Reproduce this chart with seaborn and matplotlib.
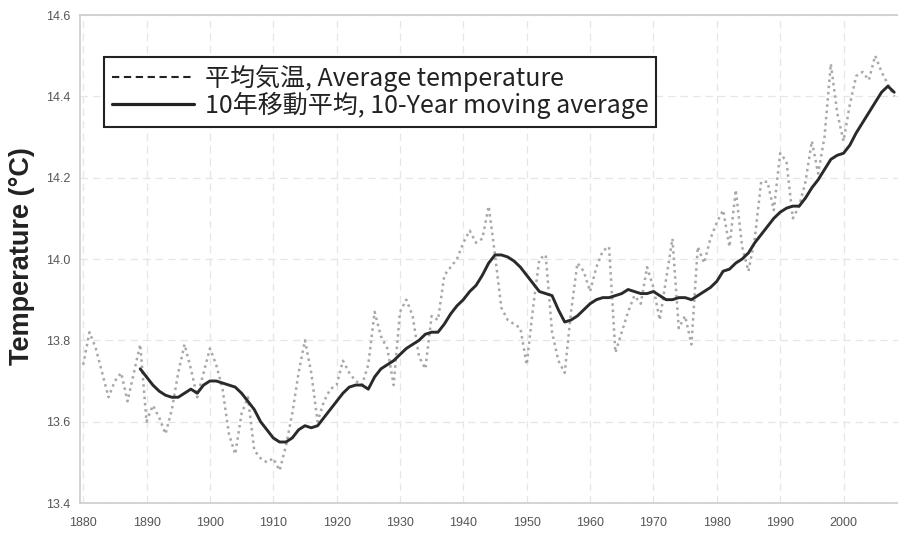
import numpy as np
import pandas as pd
import matplotlib
matplotlib.use('Agg')
import matplotlib.pyplot as plt
from matplotlib.lines import Line2D
import seaborn as sns

# annual mean temperature
years = list(range(1880, 2009))
avg_temp = [
    13.74, 13.82, 13.78, 13.72, 13.66, 13.70, 13.72, 13.65, 13.72, 13.79,  # 1880s
    13.60, 13.64, 13.61, 13.57, 13.63, 13.72, 13.79, 13.73, 13.66, 13.72,  # 1890s
    13.78, 13.74, 13.68, 13.57, 13.52, 13.62, 13.66, 13.53, 13.51, 13.50,  # 1900s
    13.51, 13.48, 13.54, 13.62, 13.72, 13.80, 13.72, 13.60, 13.65, 13.68,  # 1910s
    13.69, 13.75, 13.72, 13.70, 13.69, 13.74, 13.87, 13.81, 13.78, 13.69,  # 1920s
    13.87, 13.90, 13.86, 13.76, 13.73, 13.86, 13.85, 13.96, 13.98, 14.00,  # 1930s
    14.04, 14.07, 14.04, 14.05, 14.13, 14.01, 13.88, 13.85, 13.84, 13.83,  # 1940s
    13.74, 13.88, 14.00, 14.01, 13.82, 13.75, 13.72, 13.87, 13.99, 13.97,  # 1950s
    13.92, 13.98, 14.02, 14.03, 13.77, 13.82, 13.87, 13.91, 13.89, 13.98,  # 1960s
    13.93, 13.85, 13.95, 14.05, 13.83, 13.86, 13.79, 14.03, 13.99, 14.05,  # 1970s
    14.09, 14.12, 14.03, 14.17, 14.03, 13.97, 14.05, 14.19, 14.19, 14.12,  # 1980s
    14.26, 14.24, 14.10, 14.13, 14.19, 14.29, 14.21, 14.30, 14.48, 14.36,  # 1990s
    14.29, 14.38, 14.45, 14.46, 14.44, 14.50, 14.46, 14.43, 14.40,         # 2000s
]

# 10-year moving average (starts 1889)
ma_years = list(range(1889, 2009))
ma_temp = [
    13.73,
    13.71, 13.69, 13.675, 13.665, 13.66, 13.66, 13.67, 13.68, 13.67, 13.69,
    13.70, 13.70, 13.695, 13.69, 13.685, 13.67, 13.65, 13.63, 13.60, 13.58,
    13.56, 13.55, 13.55, 13.56, 13.58, 13.59, 13.585, 13.59, 13.61, 13.63,
    13.65, 13.67, 13.685, 13.69, 13.69, 13.68, 13.71, 13.73, 13.74, 13.75,
    13.765, 13.78, 13.79, 13.80, 13.815, 13.82, 13.82, 13.84, 13.865, 13.885,
    13.90, 13.92, 13.935, 13.96, 13.99, 14.01, 14.01, 14.005, 13.995, 13.98,
    13.96, 13.94, 13.92, 13.915, 13.91, 13.875, 13.845, 13.85, 13.86, 13.875,
    13.89, 13.90, 13.905, 13.905, 13.91, 13.915, 13.925, 13.92, 13.915, 13.915,
    13.92, 13.91, 13.90, 13.90, 13.905, 13.905, 13.90, 13.91, 13.92, 13.93,
    13.945, 13.97, 13.975, 13.99, 14.00, 14.015, 14.04, 14.06, 14.08, 14.10,
    14.115, 14.125, 14.13, 14.13, 14.15, 14.175, 14.195, 14.22, 14.245, 14.255,
    14.26, 14.28, 14.31, 14.335, 14.36, 14.385, 14.41, 14.425, 14.41,
]

x_ticks = list(range(1880, 2001, 10))
y_ticks = [13.4, 13.6, 13.8, 14.0, 14.2, 14.4, 14.6]

label_avg = '平均気温, Average temperature'
label_ma = '10年移動平均, 10-Year moving average'

df_avg = pd.DataFrame({'year': years, 'temp': avg_temp})
df_ma = pd.DataFrame({'year': ma_years, 'temp': ma_temp})

sns.set_theme(style='white')
plt.rcParams['font.family'] = ['Liberation Sans', 'Noto Sans CJK JP', 'DejaVu Sans']

fig = plt.figure(figsize=(8.98, 5.33), dpi=100)
ax = fig.add_axes([80 / 898, 30 / 533, 818 / 898, 488 / 533])

sns.lineplot(data=df_avg, x='year', y='temp', ax=ax, color='#a8a8a8',
             linewidth=1.8, linestyle=(0, (1, 1.5)))
sns.lineplot(data=df_ma, x='year', y='temp', ax=ax, color='#2a2a2a',
             linewidth=2.1)

ax.set_xlim(1879.5, 2008.6)
ax.set_ylim(13.4, 14.6)
ax.set_xticks(x_ticks)
ax.set_yticks(y_ticks)
ax.set_xticklabels([str(t) for t in x_ticks])
ax.set_yticklabels(['%.1f' % t for t in y_ticks])
ax.tick_params(axis='both', length=0, labelcolor='#555555')
ax.tick_params(axis='x', pad=10)
ax.tick_params(axis='y', pad=7)
for lab in ax.get_xticklabels() + ax.get_yticklabels():
    lab.set_fontsize(9)

ax.grid(True, color='#e6e6e6', linestyle=(0, (6, 4)), linewidth=0.9)
for side in ['left', 'bottom', 'top']:
    ax.spines[side].set_color('#cccccc')
    ax.spines[side].set_linewidth(1.2)
ax.spines['right'].set_visible(False)

ax.set_xlabel('')
ax.set_ylabel('Temperature (°C)', fontsize=19.5, fontweight='bold', color='#222222')
ax.yaxis.set_label_coords(-45 / 818, 0.505)

handles = [
    Line2D([], [], color='#222222', linewidth=1.5, linestyle=(0, (3.5, 2.2))),
    Line2D([], [], color='#222222', linewidth=2.3),
]
leg = ax.legend(handles, [label_avg, label_ma], loc='upper left',
                bbox_to_anchor=(24 / 818, (503 - 57) / 488),
                prop={'family': ['Noto Sans CJK JP', 'DejaVu Sans'], 'size': 18},
                frameon=True, fancybox=False, edgecolor='#222222',
                handlelength=3.3, handletextpad=0.45, labelspacing=0.0,
                borderpad=0.3, borderaxespad=0)
leg.get_frame().set_linewidth(1.5)
leg.get_frame().set_facecolor('white')
leg.get_frame().set_alpha(1)
for t in leg.get_texts():
    t.set_color('#222222')

fig.savefig('out.png', dpi=100)
